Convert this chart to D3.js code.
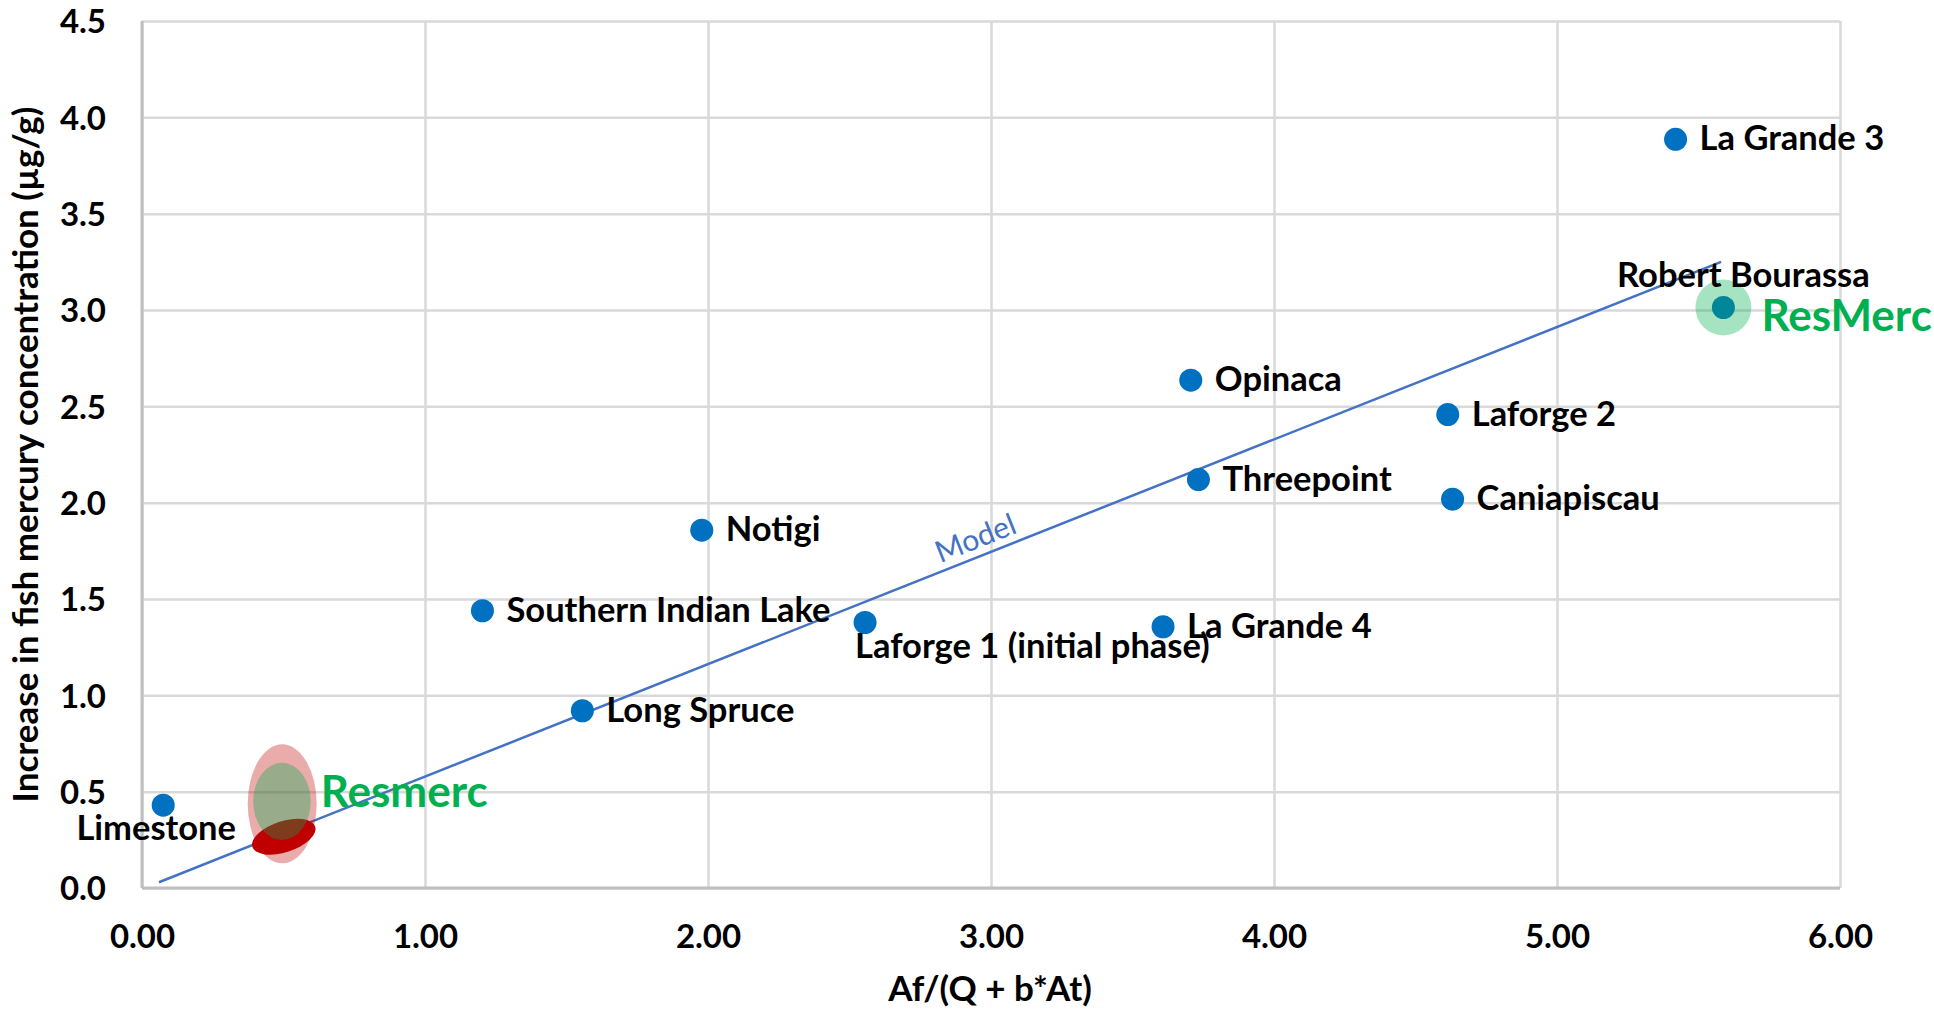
<!DOCTYPE html>
<html>
<head>
<meta charset="utf-8">
<script src="https://cdn.jsdelivr.net/npm/d3@7"></script>
<style>
  html, body { margin: 0; padding: 0; background: #ffffff; }
  svg { display: block; }
  text { font-family: Lato, "Open Sans", sans-serif; }
</style>
</head>
<body>
<script>
// Reservoirs: predicted ratio Af/(Q + b*At) vs observed increase in fish mercury
const reservoirs = ["Limestone", "Long Spruce", "Southern Indian Lake", "Notigi",
  "Laforge 1 (initial phase)", "La Grande 4", "Opinaca", "Threepoint",
  "Laforge 2", "Caniapiscau", "La Grande 3", "Robert Bourassa"];
const ratioValues = [0.075, 1.556, 1.203, 1.978, 2.555, 3.608, 3.706, 3.733, 4.614, 4.631, 5.419, 5.588];
const mercuryIncrease = [0.43, 0.92, 1.439, 1.857, 1.378, 1.356, 2.636, 2.120, 2.457, 2.018, 3.886, 3.013];

// Fitted model line end points
const modelX = [0.06, 5.58];
const modelY = [0.03, 3.25];

// ResMerc estimate for the small reservoir: outer range, inner range, and central estimate
const resmercOuterX = [0.3735, 0.6173];
const resmercOuterY = [0.128, 0.7455];
const resmercInnerX = [0.393, 0.596];
const resmercInnerY = [0.249, 0.650];
const resmercCentre = [0.501, 0.266];

// Axis ticks
const xTicks = [0, 1, 2, 3, 4, 5, 6];
const xTickLabels = ["0.00", "1.00", "2.00", "3.00", "4.00", "5.00", "6.00"];
const yTicks = [0, 0.5, 1, 1.5, 2, 2.5, 3, 3.5, 4, 4.5];
const yTickLabels = ["0.0", "0.5", "1.0", "1.5", "2.0", "2.5", "3.0", "3.5", "4.0", "4.5"];

const W = 1934, H = 1009;
const plot = { left: 142, right: 1840, top: 21, bottom: 888 };

const svg = d3.select("body").append("svg").attr("width", W).attr("height", H);

const x = d3.scaleLinear().domain([0, 6]).range([plot.left, plot.right]);
const y = d3.scaleLinear().domain([0, 4.5]).range([plot.bottom, plot.top]);

const LABEL_FONT = 34.5;
const TICK_FONT = 33;
const TITLE_FONT = 35;

// Grid + tick labels via axes
const gx = svg.append("g")
  .attr("transform", `translate(0,${plot.bottom})`)
  .call(d3.axisBottom(x).tickValues(xTicks)
    .tickFormat((d, i) => xTickLabels[i])
    .tickSize(-(plot.bottom - plot.top)));
gx.select(".domain").remove();
gx.selectAll(".tick line").attr("stroke", "#d9d9d9").attr("stroke-width", 2.5);
gx.selectAll(".tick text")
  .attr("y", 60).attr("dy", null)
  .attr("fill", "#000").attr("font-size", TICK_FONT).attr("font-weight", 700)
  .attr("font-family", "Lato");

const gy = svg.append("g")
  .attr("transform", `translate(${plot.left},0)`)
  .call(d3.axisLeft(y).tickValues(yTicks)
    .tickFormat((d, i) => yTickLabels[i])
    .tickSize(-(plot.right - plot.left)));
gy.select(".domain").remove();
gy.selectAll(".tick line").attr("stroke", "#d9d9d9").attr("stroke-width", 2.5);
gy.selectAll(".tick text")
  .attr("x", -36).attr("dy", "0.36em")
  .attr("fill", "#000").attr("font-size", TICK_FONT).attr("font-weight", 700)
  .attr("font-family", "Lato");

// Left and bottom axis lines
svg.append("line").attr("x1", plot.left).attr("x2", plot.left)
  .attr("y1", plot.top).attr("y2", plot.bottom)
  .attr("stroke", "#bfbfbf").attr("stroke-width", 3);
svg.append("line").attr("x1", plot.left).attr("x2", plot.right)
  .attr("y1", plot.bottom).attr("y2", plot.bottom)
  .attr("stroke", "#bfbfbf").attr("stroke-width", 3);

// Axis titles
svg.append("text")
  .attr("x", (plot.left + plot.right) / 2 - 1).attr("y", 1001)
  .attr("text-anchor", "middle")
  .attr("font-size", TITLE_FONT).attr("font-weight", 700)
  .text("Af/(Q + b*At)");

svg.append("text")
  .attr("transform", `translate(38,${(plot.top + plot.bottom) / 2}) rotate(-90)`)
  .attr("text-anchor", "middle")
  .attr("font-size", TITLE_FONT).attr("font-weight", 700)
  .text("Increase in fish mercury concentration (µg/g)");

// Model line
const modelPts = modelX.map((d, i) => [d, modelY[i]]);
svg.append("path")
  .datum(modelPts)
  .attr("d", d3.line().x(d => x(d[0])).y(d => y(d[1])))
  .attr("fill", "none").attr("stroke", "#4472c4").attr("stroke-width", 2.5);

const slopeAngle = Math.atan2(y(modelY[1]) - y(modelY[0]), x(modelX[1]) - x(modelX[0])) * 180 / Math.PI;
const labelT = 0.527;
const mlx = x(modelX[0]) + labelT * (x(modelX[1]) - x(modelX[0]));
const mly = y(modelY[0]) + labelT * (y(modelY[1]) - y(modelY[0]));
svg.append("text")
  .attr("transform", `translate(${mlx},${mly}) rotate(${slopeAngle})`)
  .attr("y", -8)
  .attr("text-anchor", "middle")
  .attr("fill", "#4472c4").attr("font-size", 30)
  .text("Model");

// ResMerc estimate ellipses
const ell = svg.append("g");
ell.append("ellipse")
  .attr("cx", x(d3.mean(resmercOuterX))).attr("cy", y(d3.mean(resmercOuterY)))
  .attr("rx", (x(resmercOuterX[1]) - x(resmercOuterX[0])) / 2)
  .attr("ry", (y(resmercOuterY[0]) - y(resmercOuterY[1])) / 2)
  .attr("fill", "#c00000").attr("fill-opacity", 0.33);
ell.append("ellipse")
  .attr("transform", `translate(${x(resmercCentre[0])},${y(resmercCentre[1])}) rotate(-18)`)
  .attr("rx", 33).attr("ry", 15.5)
  .attr("fill", "#c00000");
ell.append("ellipse")
  .attr("cx", x(d3.mean(resmercInnerX))).attr("cy", y(d3.mean(resmercInnerY)))
  .attr("rx", (x(resmercInnerX[1]) - x(resmercInnerX[0])) / 2)
  .attr("ry", (y(resmercInnerY[0]) - y(resmercInnerY[1])) / 2)
  .attr("fill", "#00b050").attr("fill-opacity", 0.35);

svg.append("text")
  .attr("x", x(resmercOuterX[1]) + 4).attr("y", 806.7)
  .attr("fill", "#00b050").attr("font-size", 44).attr("font-weight", 700)
  .text("Resmerc");

// Reservoir points
const pts = reservoirs.map((name, i) => ({ name, rx: ratioValues[i], hg: mercuryIncrease[i] }));
svg.append("g").selectAll("circle").data(pts).join("circle")
  .attr("cx", d => x(d.rx)).attr("cy", d => y(d.hg))
  .attr("r", 11.5).attr("fill", "#0070c0");

// Halo for the ResMerc run at Robert Bourassa
const rb = pts.find(d => d.name === "Robert Bourassa");
svg.append("circle")
  .attr("cx", x(rb.rx)).attr("cy", y(rb.hg)).attr("r", 28)
  .attr("fill", "#00b050").attr("fill-opacity", 0.35);
svg.append("text")
  .attr("x", x(rb.rx) + 38).attr("y", y(rb.hg) + 24)
  .attr("fill", "#00b050").attr("font-size", 44).attr("font-weight", 700)
  .text("ResMerc");

// Point labels
const placement = {
  "Limestone": { anchor: "middle", dx: -7, dy: 35 },
  "Laforge 1 (initial phase)": { anchor: "start", dx: -10, dy: 35 },
  "Robert Bourassa": { anchor: "middle", dx: 20, dy: -20.6 }
};
svg.append("g").selectAll("text").data(pts).join("text")
  .attr("x", d => x(d.rx) + (placement[d.name] ? placement[d.name].dx : 24))
  .attr("y", d => y(d.hg) + (placement[d.name] ? placement[d.name].dy : 11))
  .attr("text-anchor", d => placement[d.name] ? placement[d.name].anchor : "start")
  .attr("font-size", LABEL_FONT).attr("font-weight", 700).attr("fill", "#000")
  .text(d => d.name);
</script>
</body>
</html>
